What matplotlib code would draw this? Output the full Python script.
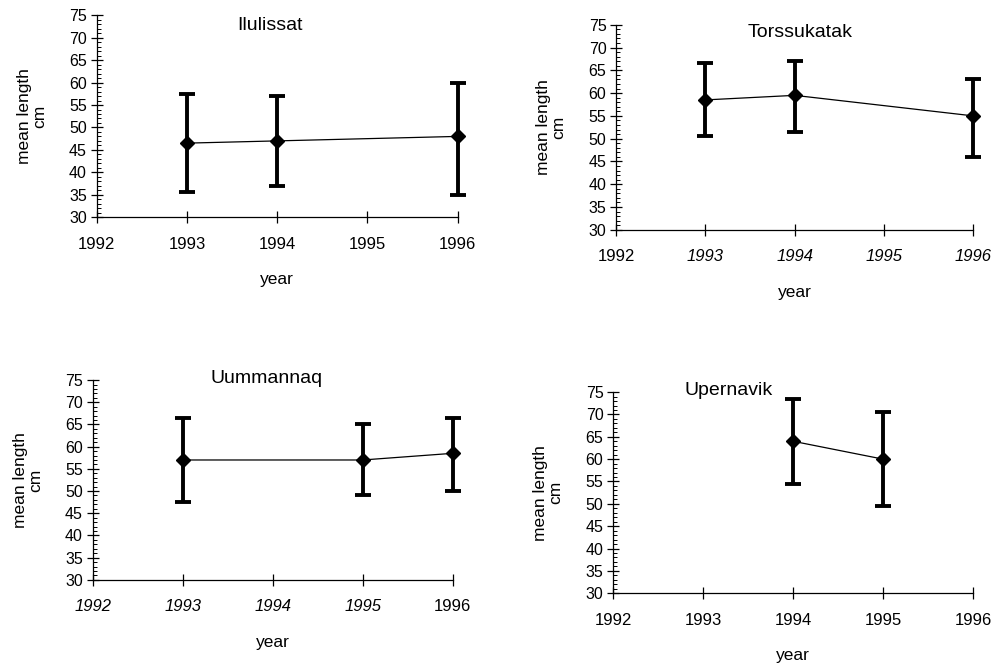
import numpy as np
import matplotlib
matplotlib.use('Agg')
import matplotlib.pyplot as plt
from matplotlib.ticker import MultipleLocator

plt.rcParams['font.family'] = ['Liberation Sans', 'DejaVu Sans']

# mean length (cm) with lower / upper ends of the error bars
ilu_years = [1993, 1994, 1996]
ilu_mean = [46.5, 47.0, 48.0]
ilu_low = [35.5, 37.0, 35.0]
ilu_high = [57.5, 57.0, 60.0]

tor_years = [1993, 1994, 1996]
tor_mean = [58.5, 59.5, 55.0]
tor_low = [50.5, 51.5, 46.0]
tor_high = [66.5, 67.0, 63.0]

uum_years = [1993, 1995, 1996]
uum_mean = [57.0, 57.0, 58.5]
uum_low = [47.5, 49.0, 50.0]
uum_high = [66.5, 65.0, 66.5]

upe_years = [1994, 1995]
upe_mean = [64.0, 60.0]
upe_low = [54.5, 49.5]
upe_high = [73.5, 70.5]

year_ticks = [1992, 1993, 1994, 1995, 1996]

panels = [
    ('Ilulissat', ilu_years, ilu_mean, ilu_low, ilu_high,
     [0.097, 0.675, 0.362, 0.302], (0.48, 0.95), []),
    ('Torssukatak', tor_years, tor_mean, tor_low, tor_high,
     [0.618, 0.656, 0.358, 0.307], (0.515, 0.96), [1993, 1994, 1995, 1996]),
    ('Uummannaq', uum_years, uum_mean, uum_low, uum_high,
     [0.093, 0.132, 0.361, 0.299], (0.483, 1.01), [1992, 1993, 1994, 1995]),
    ('Upernavik', upe_years, upe_mean, upe_low, upe_high,
     [0.615, 0.112, 0.361, 0.301], (0.32, 1.01), []),
]

fig = plt.figure(figsize=(9.97, 6.68), dpi=100)

for name, yrs, mean, low, high, rect, tpos, italic_years in panels:
    ax = fig.add_axes(rect)
    mean = np.array(mean)
    err = [mean - np.array(low), np.array(high) - mean]
    ax.errorbar(yrs, mean, yerr=err, color='black', lw=0.9,
                marker='D', ms=7.5, elinewidth=2.8, capsize=5.5, capthick=2.8,
                clip_on=False, zorder=3)
    ax.set_xlim(1992, 1996)
    ax.set_ylim(30, 75)
    ax.set_xticks(year_ticks)
    ax.set_yticks(np.arange(30, 76, 5))
    ax.yaxis.set_minor_locator(MultipleLocator(1))
    ax.tick_params(axis='both', which='major', direction='inout', length=8,
                   width=0.9)
    ax.tick_params(axis='y', which='major', labelsize=11.5, pad=3)
    ax.tick_params(axis='x', which='major', labelsize=12, pad=10)
    ax.tick_params(axis='y', which='minor', direction='in', length=3, width=0.7)
    for lab in ax.get_xticklabels():
        if int(float(lab.get_text().replace('\u2212', '-'))) in italic_years:
            lab.set_fontstyle('italic')
    for side in ['top', 'right']:
        ax.spines[side].set_visible(False)
    ax.spines['left'].set_linewidth(0.9)
    ax.spines['bottom'].set_linewidth(0.9)
    ax.set_xlabel('year', fontsize=12.5, labelpad=15)
    ax.set_ylabel('mean length\ncm', fontsize=12.5, labelpad=16, linespacing=1.0)
    ax.text(tpos[0], tpos[1], name, transform=ax.transAxes, fontsize=14,
            ha='center', va='center')

fig.savefig('out.png', dpi=100)
